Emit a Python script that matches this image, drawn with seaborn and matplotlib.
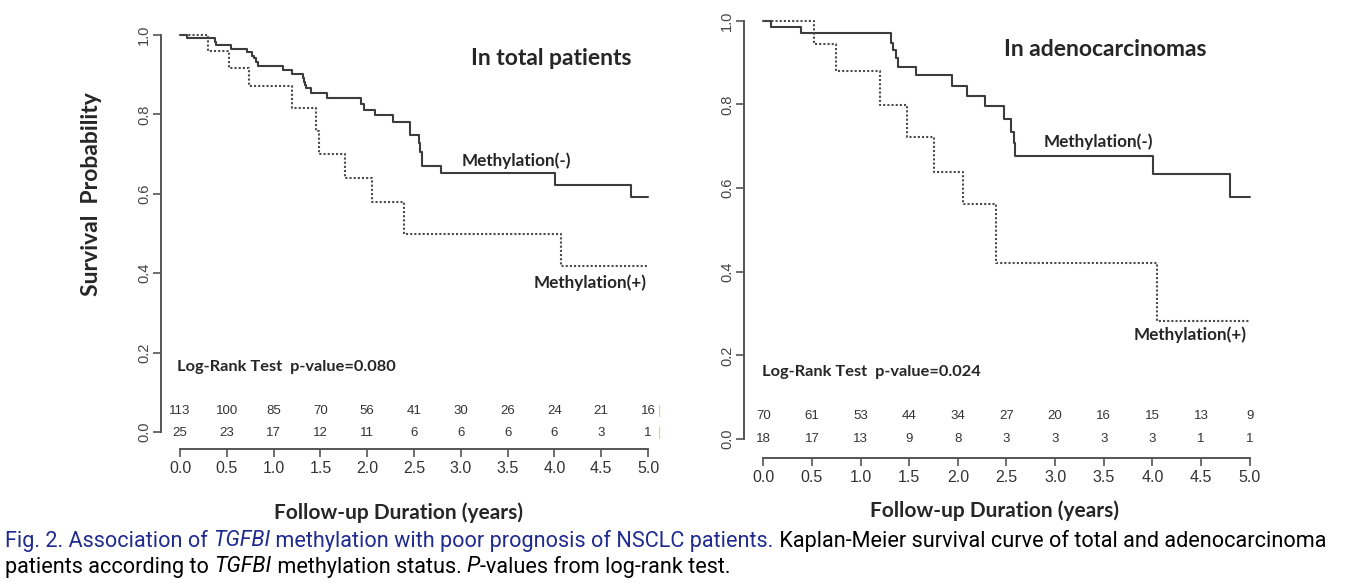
import matplotlib
matplotlib.use("Agg")
from matplotlib import pyplot as plt
import seaborn as sns
import pandas as pd

# Kaplan-Meier steps (time in years, survival probability)
total_neg_t = [0.0, 0.07, 0.37, 0.385, 0.54, 0.71, 0.77, 0.79, 0.81, 0.83,
               1.10, 1.20, 1.31, 1.32, 1.34, 1.35, 1.40, 1.57, 1.93, 1.97,
               2.08, 2.28, 2.46, 2.55, 2.56, 2.59, 2.79, 4.01, 4.82, 5.0]
total_neg_s = [1.0, 0.993, 0.983, 0.975, 0.965, 0.956, 0.948, 0.941, 0.933, 0.923,
               0.912, 0.901, 0.891, 0.882, 0.874, 0.866, 0.855, 0.842, 0.825, 0.811,
               0.798, 0.782, 0.748, 0.727, 0.706, 0.671, 0.652, 0.622, 0.593, 0.593]
total_pos_t = [0.0, 0.30, 0.52, 0.74, 1.20, 1.45, 1.48, 1.76, 2.05, 2.39, 4.07, 5.0]
total_pos_s = [1.0, 0.960, 0.918, 0.872, 0.815, 0.757, 0.700, 0.639, 0.580, 0.500, 0.419, 0.419]

adeno_neg_t = [0.0, 0.08, 0.39, 1.31, 1.33, 1.36, 1.39, 1.57, 1.94, 2.09,
               2.28, 2.47, 2.55, 2.58, 2.59, 4.01, 4.80, 5.0]
adeno_neg_s = [1.0, 0.986, 0.971, 0.946, 0.930, 0.910, 0.890, 0.870, 0.844, 0.820,
               0.795, 0.764, 0.735, 0.707, 0.677, 0.634, 0.579, 0.579]
adeno_pos_t = [0.0, 0.52, 0.75, 1.20, 1.48, 1.76, 2.05, 2.39, 4.05, 5.0]
adeno_pos_s = [1.0, 0.944, 0.880, 0.799, 0.721, 0.639, 0.561, 0.420, 0.282, 0.282]

# numbers at risk
risk_times = [0.0, 0.5, 1.0, 1.5, 2.0, 2.5, 3.0, 3.5, 4.0, 4.5, 5.0]
total_risk_neg = [113, 100, 85, 70, 56, 41, 30, 26, 24, 21, 16]
total_risk_pos = [25, 23, 17, 12, 11, 6, 6, 6, 6, 3, 1]
adeno_risk_neg = [70, 61, 53, 44, 34, 27, 20, 16, 15, 13, 9]
adeno_risk_pos = [18, 17, 13, 9, 8, 3, 3, 3, 3, 1, 1]

y_ticks = [0.0, 0.2, 0.4, 0.6, 0.8, 1.0]

sns.set_style("ticks")
plt.rcParams['font.family'] = ['Liberation Sans', 'DejaVu Sans']
BOLD = ['Lato', 'DejaVu Sans']
AXC = '#555555'


def km_panel(ax, neg_t, neg_s, pos_t, pos_s, risk_neg, risk_pos, xlim, ylim, rows):
    df = pd.concat([
        pd.DataFrame({'time': neg_t, 'surv': neg_s, 'grp': 'neg'}),
        pd.DataFrame({'time': pos_t, 'surv': pos_s, 'grp': 'pos'}),
    ])
    sns.lineplot(data=df, x='time', y='surv', hue='grp', style='grp',
                 palette={'neg': '#3c3c3c', 'pos': '#4a4a4a'},
                 dashes={'neg': '', 'pos': (1, 1)},
                 estimator=None, drawstyle='steps-post', linewidth=1.5,
                 legend=False, ax=ax)
    ax.set_xlim(*xlim)
    ax.set_ylim(*ylim)
    ax.set_xlabel('')
    ax.set_ylabel('')
    ax.set_xticks(risk_times)
    ax.set_xticklabels([f'{t:.1f}' for t in risk_times], fontsize=11.5, color='#333333')
    ax.set_yticks(y_ticks)
    ax.set_yticklabels([f'{v:.1f}' for v in y_ticks], fontsize=10.5, color='#444444',
                       rotation=90, va='center')
    for side in ['top', 'right']:
        ax.spines[side].set_visible(False)
    for side in ['left', 'bottom']:
        ax.spines[side].set_color(AXC)
        ax.spines[side].set_linewidth(1.4)
    ax.spines['left'].set_bounds(0, 1)
    ax.spines['bottom'].set_bounds(0, 5)
    ax.tick_params(axis='both', bottom=True, left=True, direction='out',
                   length=6, width=1.2, color=AXC, pad=3)
    ax.tick_params(axis='y', pad=1)
    ax.set_facecolor('none')

    # numbers at risk
    for t, a, b in zip(risk_times, risk_neg, risk_pos):
        ax.text(t, rows[0], str(a), ha='center', va='center', fontsize=9.5, color='#333333')
        ax.text(t, rows[1], str(b), ha='center', va='center', fontsize=9.5, color='#333333')


fig = plt.figure(figsize=(13.5, 5.87), dpi=100)

# left: total patients
ax1 = fig.add_axes([0.1193, 0.2351, 0.3696, 0.7138])
km_panel(ax1, total_neg_t, total_neg_s, total_pos_t, total_pos_s,
         total_risk_neg, total_risk_pos, (-0.203, 5.128), (-0.0428, 1.0126),
         [0.053, -0.0025])
ax1.text(3.97, 0.942, 'In total patients', ha='center', va='center',
         fontsize=16.5, fontweight='bold', family=BOLD)
ax1.text(3.595, 0.683, 'Methylation(-)', ha='center', va='center',
         fontsize=12.3, fontweight='bold', family=BOLD)
ax1.text(4.38, 0.375, 'Methylation(+)', ha='center', va='center',
         fontsize=12.3, fontweight='bold', family=BOLD)
ax1.text(-0.03, 0.164, 'Log-Rank Test  p-value=0.080', ha='left', va='center',
         fontsize=11.8, fontweight='bold', family=BOLD)
# faint marks right of the risk table
for yy in [0.053, -0.0025]:
    ax1.text(5.12, yy, '|', ha='center', va='center', fontsize=9, color='#f2c46d')

# right: adenocarcinomas
ax2 = fig.add_axes([0.5511, 0.2198, 0.3822, 0.7547])
km_panel(ax2, adeno_neg_t, adeno_neg_s, adeno_pos_t, adeno_pos_s,
         adeno_risk_neg, adeno_risk_pos, (-0.198, 5.105), (-0.0449, 1.0136),
         [0.055, 0.0])
ax2.text(3.52, 0.930, 'In adenocarcinomas', ha='center', va='center',
         fontsize=16.5, fontweight='bold', family=BOLD)
ax2.text(3.44, 0.710, 'Methylation(-)', ha='center', va='center',
         fontsize=12.3, fontweight='bold', family=BOLD)
ax2.text(4.39, 0.249, 'Methylation(+)', ha='center', va='center',
         fontsize=12.3, fontweight='bold', family=BOLD)
ax2.text(-0.013, 0.160, 'Log-Rank Test  p-value=0.024', ha='left', va='center',
         fontsize=11.8, fontweight='bold', family=BOLD)

# axis titles
fig.text(92 / 1350, 1 - 194 / 587, 'Survival  Probability', rotation=90,
         ha='center', va='center', fontsize=16.5, fontweight='bold', family=BOLD)
fig.text(398 / 1350, 1 - 513 / 587, 'Follow-up Duration (years)', ha='center', va='center',
         fontsize=15, fontweight='bold', family=BOLD)
fig.text(994 / 1350, 1 - 511 / 587, 'Follow-up Duration (years)', ha='center', va='center',
         fontsize=15, fontweight='bold', family=BOLD)


# caption with mixed styles, pieces placed one after another
def rich_line(x, y, parts, size=15.6, family=('Roboto', 'DejaVu Sans')):
    r = fig.canvas.get_renderer()
    for s, kw in parts:
        t = fig.text(x, y, s, fontsize=size, family=list(family), va='center', **kw)
        x += t.get_window_extent(renderer=r).width / fig.bbox.width


BLUE = '#1f2b8e'
rich_line(5 / 1350, 1 - 541 / 587, [
    ('Fig. 2. Association of ', dict(color=BLUE)),
    ('TGFBI', dict(color=BLUE, style='italic')),
    (' methylation with poor prognosis of NSCLC patients.', dict(color=BLUE)),
    (' Kaplan-Meier survival curve of total and adenocarcinoma', dict(color='black')),
])
rich_line(5 / 1350, 1 - 567 / 587, [
    ('patients according to ', dict(color='black')),
    ('TGFBI', dict(color='black', style='italic')),
    (' methylation status. ', dict(color='black')),
    ('P', dict(color='black', style='italic')),
    ('-values from log-rank test.', dict(color='black')),
])

fig.savefig('out.png', dpi=100)
